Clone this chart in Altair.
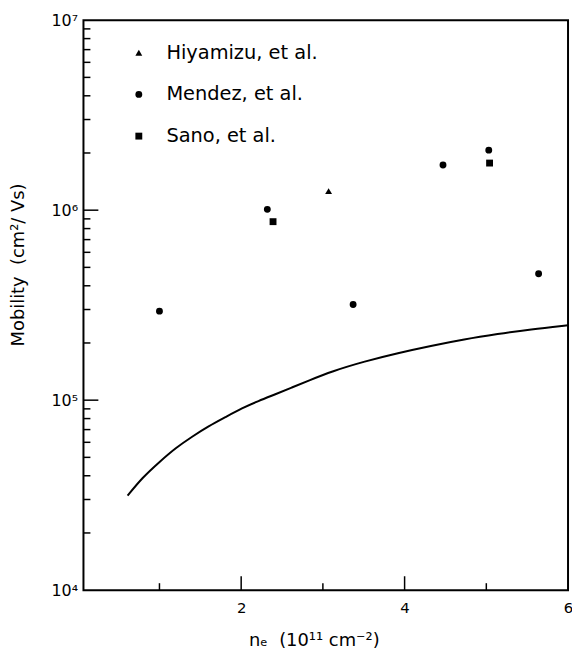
import altair as alt
import pandas as pd

# ---- data ----
series_names = ["Hiyamizu, et al.", "Mendez, et al.", "Sano, et al."]
series_shapes = ["triangle-up", "circle", "square"]

hiy_x = [3.07]
hiy_y = [1.26e6]

men_x = [1.00, 2.32, 3.37, 4.47, 5.03, 5.64]
men_y = [2.94e5, 1.01e6, 3.19e5, 1.73e6, 2.07e6, 4.63e5]

sano_x = [2.39, 5.04]
sano_y = [8.7e5, 1.77e6]

curve_x = [0.61, 0.79, 1.00, 1.20, 1.40, 1.60, 1.81, 2.01, 2.21, 2.42, 2.62,
           2.82, 3.11, 3.51, 3.92, 4.32, 4.73, 5.14, 5.54, 6.00]
curve_y = [3.14e4, 3.91e4, 4.73e4, 5.61e4, 6.43e4, 7.29e4, 8.15e4, 9.08e4,
           9.90e4, 1.075e5, 1.166e5, 1.265e5, 1.419e5, 1.60e5, 1.77e5, 1.93e5,
           2.09e5, 2.23e5, 2.36e5, 2.48e5]

x_label_vals = [2, 4, 6]
x_major_ticks = [2, 4]
x_minor_ticks = [1, 3, 5]
y_label_vals = [1e4, 1e5, 1e6, 1e7]
y_major_ticks = [1e5, 1e6]
y_minor_ticks = [2e4, 3e4, 4e4, 5e4, 6e4, 7e4, 8e4, 9e4,
                 2e5, 3e5, 4e5, 5e5, 6e5, 7e5, 8e5, 9e5,
                 2e6, 3e6, 4e6, 5e6, 6e6, 7e6, 8e6, 9e6]

# ---- tables ----
pts = pd.concat([
    pd.DataFrame({"x": hiy_x, "y": hiy_y, "series": series_names[0]}),
    pd.DataFrame({"x": men_x, "y": men_y, "series": series_names[1]}),
    pd.DataFrame({"x": sano_x, "y": sano_y, "series": series_names[2]}),
], ignore_index=True)
curve = pd.DataFrame({"x": curve_x, "y": curve_y})

W, H = 488, 574
FONT = "DejaVu Sans"
NB = "\u00a0"

xscale = alt.Scale(domain=[0.07, 6], nice=False, zero=False)
yscale = alt.Scale(type="log", domain=[1e4, 1e7], nice=False)

x_axis = alt.Axis(values=x_label_vals, ticks=False, domain=False, grid=False,
                  labelFontSize=15, labelPadding=11, labelFlush=False,
                  labelColor="black", labelFont=FONT,
                  title=f"nₑ{NB}{NB}(10¹¹ cm⁻²)", titleFont=FONT, titleFontSize=18,
                  titleFontWeight="normal", titleColor="black",
                  titleX=232, titleY=42, titleBaseline="top")
y_axis = alt.Axis(values=y_label_vals, ticks=False, domain=False, grid=False,
                  labelFontSize=16, labelPadding=6, labelFlush=False,
                  labelOverlap=False, labelColor="black", labelFont=FONT,
                  labelExpr="'10' + ['⁴','⁵','⁶','⁷'][round(log(datum.value)/LN10) - 4]",
                  title=f"Mobility{NB}{NB}(cm²/{NB}Vs)", titleFont=FONT, titleFontSize=18,
                  titleFontWeight="normal", titleColor="black",
                  titleX=-65, titleY=246, titleBaseline="middle")

X = lambda: alt.X("x:Q", scale=xscale, axis=x_axis)
Y = lambda: alt.Y("y:Q", scale=yscale, axis=y_axis)

line = alt.Chart(curve).mark_line(color="black", strokeWidth=2, interpolate="basis").encode(
    x=X(), y=Y())

points = alt.Chart(pts).mark_point(filled=True, color="black", opacity=1, size=48).encode(
    x=X(), y=Y(),
    shape=alt.Shape("series:N",
                    scale=alt.Scale(domain=series_names, range=series_shapes),
                    legend=alt.Legend(orient="none", legendX=46, legendY=23, title=None,
                                      labelFontSize=19.5, labelFont=FONT, labelColor="black",
                                      symbolSize=48, symbolFillColor="black",
                                      symbolStrokeColor="black", symbolStrokeWidth=0,
                                      rowPadding=21, labelOffset=18, padding=0)),
)

ymaj = alt.Chart(pd.DataFrame({"y": y_major_ticks})).mark_rule(color="black", strokeWidth=1.5).encode(
    y=Y(), x=alt.value(0), x2=alt.value(15))
ymin = alt.Chart(pd.DataFrame({"y": y_minor_ticks})).mark_rule(color="black", strokeWidth=1.5).encode(
    y=Y(), x=alt.value(0), x2=alt.value(7))
xmaj = alt.Chart(pd.DataFrame({"x": x_major_ticks})).mark_rule(color="black", strokeWidth=1.5).encode(
    x=X(), y=alt.value(H), y2=alt.value(H - 14))
xmin = alt.Chart(pd.DataFrame({"x": x_minor_ticks})).mark_rule(color="black", strokeWidth=1.5).encode(
    x=X(), y=alt.value(H), y2=alt.value(H - 7))

chart = alt.layer(line, ymaj, ymin, xmaj, xmin, points).properties(
    width=W, height=H,
    autosize=alt.AutoSizeParams(type="none"),
    padding={"left": 76, "top": 10, "right": 4, "bottom": 58},
    background="white",
).configure_view(stroke="black", strokeWidth=2)

chart.save("out.html", embed_options={"renderer": "svg", "actions": False})
